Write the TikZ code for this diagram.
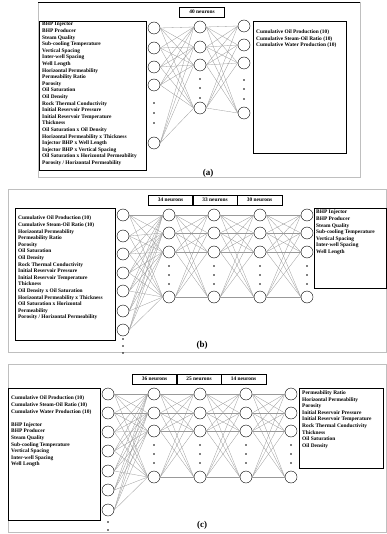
\documentclass[tikz,border=0pt]{standalone}
\usepackage{fontspec}
\setmainfont{Liberation Serif}
\begin{document}
\begin{tikzpicture}[x=1pt,y=-1pt,
	neurone/.style={circle, draw, thin, minimum size=12pt, inner sep=0pt, fill=white},
	lien/.style={gray!80, line width=0.3pt},
	liste/.style={font=\fontsize{5.4}{6.6}\selectfont\bfseries, align=left, anchor=north west, inner sep=0pt},
	nombre/.style={draw, thick, minimum width=45pt, minimum height=10pt, inner sep=0pt, font=\fontsize{5.4}{6}\selectfont\bfseries},
	cadre/.style={draw=gray!50, thin},
	titre/.style={font=\fontsize{9}{9}\selectfont\bfseries}]
	\useasboundingbox (0,0) rectangle (387,534);

	% ---------- (a) ----------
	\draw[cadre] (38,2) rectangle (360,177);
	\draw[thick] (38,2) -- (360,2);
	\draw[thick] (39,21) rectangle (146,170);
	\node[liste] (ain) at (42,22) {BHP Injector\\BHP Producer\\Steam Quality\\Sub-cooling Temperature\\Vertical Spacing\\Inter-well Spacing\\Well Length\\Horizontal Permeability\\Permeability Ratio\\Porosity\\Oil Saturation\\Oil Density\\Rock Thermal Conductivity\\Initial Reservoir Pressure\\Initial Reservoir Temperature\\Thickness\\Oil Saturation x Oil Density\\Horizontal Permeability x Thickness\\Injector BHP x Well Length\\Injector BHP x Vertical Spacing\\Oil Saturation x Horizontal Permeability\\Porosity / Horizontal Permeability};
	\draw[thick] (253,21) rectangle (346,153);
	\node[liste] (aout) at (256,29.5) {Cumulative Oil Production (10)\\Cumulative Steam-Oil Ratio (10)\\Cumulative Water Production (10)};

	\foreach \i/\y in {1/28,2/48,3/67,4/85,5/143}
		\node[neurone] (ae\i) at (154,\y) {};
	\foreach \i/\y in {1/27,2/47,3/65,4/108}
		\node[neurone] (ac\i) at (200,\y) {};
	\foreach \i/\y in {1/26,2/45,3/63,4/113}
		\node[neurone] (as\i) at (244,\y) {};
	\foreach \i in {1,...,5}
		\foreach \j in {1,...,4}
			\draw[lien] (ae\i.east) -- (ac\j.west);
	\foreach \i in {1,...,4}
		\foreach \j in {1,...,4}
			\draw[lien] (ac\i.east) -- (as\j.west);
	\foreach \y in {103,113,123} \fill (154,\y) circle (0.8);
	\foreach \y in {79,88,98} \fill (200,\y) circle (0.8);
	\foreach \y in {80,89,99} \fill (244,\y) circle (0.8);

	\node[nombre] (an) at (202,12) {40 neurons};
	\node[titre] (ta) at (208,173) {(a)};

	% ---------- (b) ----------
	\draw[cadre] (8,189) rectangle (386.5,352);
	\draw[thick] (15,208) rectangle (115,340);
	\node[liste] (bin) at (18,216) {Cumulative Oil Production (10)\\Cumulative Steam-Oil Ratio (10)\\Horizontal Permeability\\Permeability Ratio\\Porosity\\Oil Saturation\\Oil Density\\Rock Thermal Conductivity\\Initial Reservoir Pressure\\Initial Reservoir Temperature\\Thickness\\Oil Density x Oil Saturation\\Horizontal Permeability x Thickness\\Oil Saturation x Horizontal\\Permeability\\Porosity / Horizontal Permeability};
	\draw[thick] (314,208) rectangle (386,288);
	\node[liste] (bout) at (316,210) {BHP Injector\\BHP Producer\\Steam Quality\\Sub-cooling Temperature\\Vertical Spacing\\Inter-well Spacing\\Well Length};

	\foreach \i/\y in {1/215,2/236,3/254,4/273,5/291,6/311,7/330}
		\node[neurone] (be\i) at (123,\y) {};
	\foreach \c/\x in {1/169,2/214,3/260,4/307}
		\foreach \i/\y in {1/215,2/233,3/252,4/297}
			\node[neurone] (b\c-\i) at (\x,\y) {};
	\foreach \i in {1,...,7}
		\foreach \j in {1,...,4}
			\draw[lien] (be\i.east) -- (b1-\j.west);
	\foreach \c/\d in {1/2,2/3,3/4}
		\foreach \i in {1,...,4}
			\foreach \j in {1,...,4}
				\draw[lien] (b\c-\i.east) -- (b\d-\j.west);
	\foreach \y in {339,346,353} \fill (123,\y) circle (0.8);
	\foreach \x in {169,214,260,307}
		\foreach \y in {266,275,284} \fill (\x,\y) circle (0.8);

	\node[nombre] (bn1) at (170.5,200) {34 neurons};
	\node[nombre] (bn2) at (215,200) {33 neurons};
	\node[nombre] (bn3) at (259.5,200) {30 neurons};
	\node[titre] (tb) at (202,345) {(b)};

	% ---------- (c) ----------
	\draw[cadre] (8,364) rectangle (386.5,532);
	\draw[thick] (8,388) rectangle (100,520);
	\node[liste] (cin) at (11,396) {Cumulative Oil Production (10)\\Cumulative Steam-Oil Ratio (10)\\Cumulative Water Production (10)\\[6.6pt]BHP Injector\\BHP Producer\\Steam Quality\\Sub-cooling Temperature\\Vertical Spacing\\Inter-well Spacing\\Well Length};
	\draw[thick] (299,388) rectangle (383,468);
	\node[liste] (cout) at (302,390.5) {Permeability Ratio\\Horizontal Permeability\\Porosity\\Initial Reservoir Pressure\\Initial Reservoir Temperature\\Rock Thermal Conductivity\\Thickness\\Oil Saturation\\Oil Density};

	\foreach \i/\y in {1/394,2/413,3/432,4/451,5/471,6/490,7/510}
		\node[neurone] (ce\i) at (108,\y) {};
	\foreach \c/\x in {1/154,2/200,3/246,4/291}
		\foreach \i/\y in {1/394,2/413,3/431,4/477}
			\node[neurone] (c\c-\i) at (\x,\y) {};
	\foreach \i in {1,...,7}
		\foreach \j in {1,...,4}
			\draw[lien] (ce\i.east) -- (c1-\j.west);
	\foreach \c/\d in {1/2,2/3,3/4}
		\foreach \i in {1,...,4}
			\foreach \j in {1,...,4}
				\draw[lien] (c\c-\i.east) -- (c\d-\j.west);
	\foreach \y in {522,530} \fill (108,\y) circle (0.8);
	\foreach \x in {154,200,246,291}
		\foreach \y in {445,454,463} \fill (\x,\y) circle (0.8);

	\node[nombre] (cn1) at (154.5,379) {36 neurons};
	\node[nombre] (cn2) at (199,379) {25 neurons};
	\node[nombre] (cn3) at (243.5,379) {14 neurons};
	\node[titre] (tc) at (202,525) {(c)};

\end{tikzpicture}
\end{document}
